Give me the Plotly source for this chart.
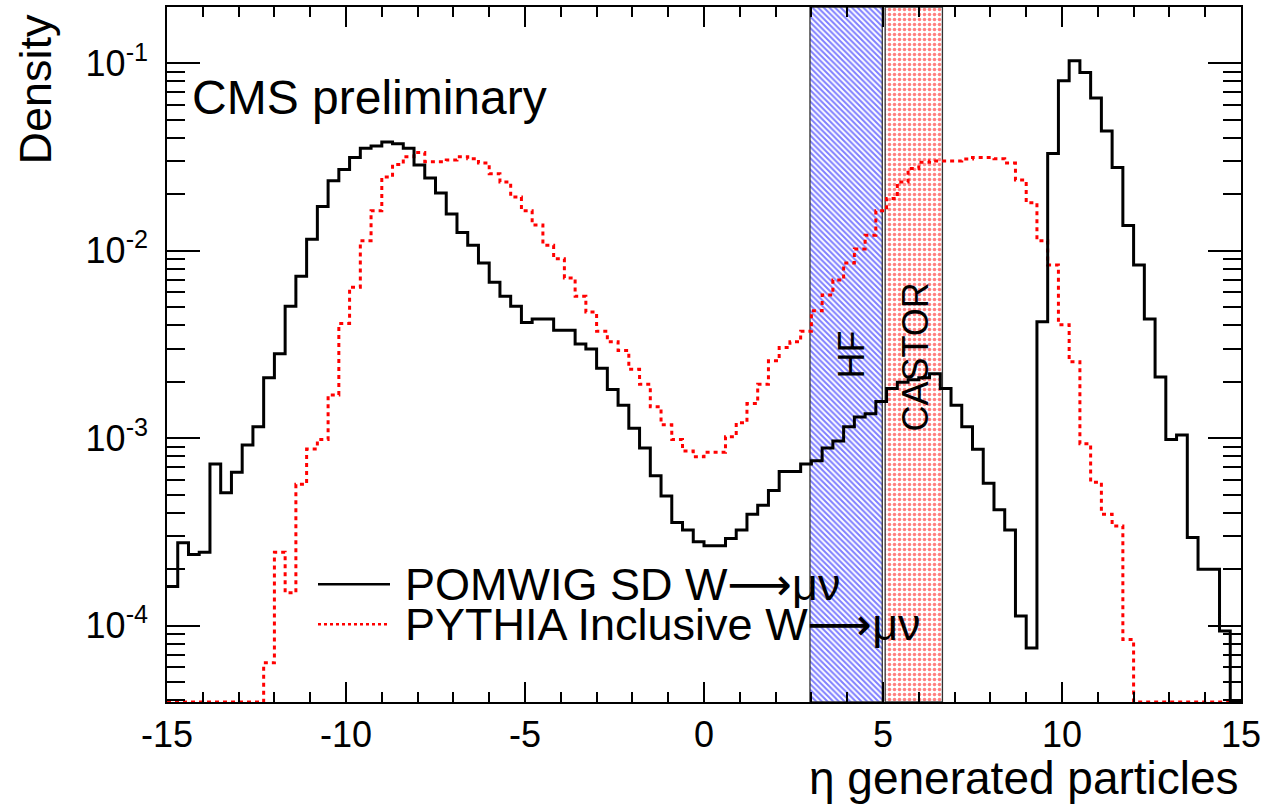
import numpy as np
import plotly.graph_objects as go

# ---------------- data ----------------
ETA_MIN, ETA_MAX, N_BINS = -15.0, 15.0, 100

POMWIG = [1.62e-4, 2.77e-4, 2.40e-4, 2.47e-4, 7.28e-4, 5.13e-4, 6.59e-4, 9.20e-4, 1.15e-3, 2.10e-3,
          2.82e-3, 5.05e-3, 7.31e-3, 1.15e-2, 1.72e-2, 2.36e-2, 2.71e-2, 3.14e-2, 3.52e-2, 3.61e-2,
          3.80e-2, 3.71e-2, 3.52e-2, 2.86e-2, 2.44e-2, 2.03e-2, 1.57e-2, 1.25e-2, 1.07e-2, 8.59e-3,
          6.79e-3, 5.71e-3, 5.05e-3, 4.14e-3, 4.32e-3, 4.32e-3, 3.77e-3, 3.77e-3, 3.18e-3, 2.99e-3,
          2.36e-3, 1.82e-3, 1.50e-3, 1.13e-3, 8.87e-4, 6.31e-4, 4.92e-4, 3.56e-4, 3.24e-4, 2.81e-4,
          2.67e-4, 2.67e-4, 2.92e-4, 3.24e-4, 3.94e-4, 4.39e-4, 5.26e-4, 6.65e-4, 6.65e-4, 7.28e-4,
          7.59e-4, 8.87e-4, 9.68e-4, 1.15e-3, 1.30e-3, 1.35e-3, 1.57e-3, 1.84e-3, 1.99e-3, 2.05e-3,
          2.10e-3, 2.21e-3, 1.84e-3, 1.50e-3, 1.15e-3, 8.73e-4, 5.75e-4, 4.16e-4, 3.24e-4, 1.13e-4,
          7.62e-5, 4.18e-3, 3.30e-2, 8.04e-2, 1.03e-1, 8.91e-2, 6.52e-2, 4.34e-2, 2.78e-2, 1.36e-2,
          8.38e-3, 4.32e-3, 2.12e-3, 9.84e-4, 1.04e-3, 2.96e-4, 2.00e-4, 2.00e-4, 9.40e-5, 0.0]

PYTHIA = [0.0, 0.0, 0.0, 0.0, 0.0, 0.0, 0.0, 0.0, 0.0, 6.35e-5,
          2.47e-4, 1.50e-4, 5.69e-4, 8.77e-4, 9.84e-4, 1.70e-3, 4.09e-3, 6.38e-3, 1.13e-2, 1.63e-2,
          2.47e-2, 2.88e-2, 3.17e-2, 3.34e-2, 2.98e-2, 2.98e-2, 3.04e-2, 3.17e-2, 3.09e-2, 2.93e-2,
          2.57e-2, 2.32e-2, 1.93e-2, 1.63e-2, 1.37e-2, 1.07e-2, 9.06e-3, 7.16e-3, 5.71e-3, 4.71e-3,
          3.72e-3, 3.27e-3, 2.94e-3, 2.33e-3, 1.94e-3, 1.47e-3, 1.18e-3, 9.84e-4, 8.55e-4, 7.98e-4,
          8.41e-4, 8.41e-4, 1.02e-3, 1.21e-3, 1.53e-3, 1.94e-3, 2.59e-3, 3.05e-3, 3.27e-3, 3.72e-3,
          4.79e-3, 5.81e-3, 6.98e-3, 8.59e-3, 1.02e-2, 1.21e-2, 1.63e-2, 1.90e-2, 2.32e-2, 2.74e-2,
          2.96e-2, 3.01e-2, 3.01e-2, 3.01e-2, 3.08e-2, 3.14e-2, 3.14e-2, 3.09e-2, 2.93e-2, 2.38e-2,
          1.80e-2, 1.13e-2, 8.38e-3, 4.03e-3, 2.56e-3, 9.35e-4, 5.83e-4, 3.94e-4, 3.41e-4, 8.45e-5,
          0.0, 0.0, 0.0, 0.0, 0.0, 0.0, 0.0, 0.0, 0.0, 0.0]

X_TICKS = [-15, -10, -5, 0, 5, 10, 15]
X_TICK_LABELS = ["-15", "-10", "-5", "0", "5", "10", "15"]
Y_TICKS = [1e-4, 1e-3, 1e-2, 1e-1]
Y_TICK_LABELS = ["10<sup>-4</sup>", "10<sup>-3</sup>", "10<sup>-2</sup>", "10<sup>-1</sup>"]
Y_RANGE_LOG = [-4.406, -0.701]

HF_BAND = (2.96, 4.98)
CASTOR_BAND = (5.06, 6.66)

ARROW = "<span style='font-family:DejaVu Sans'>\u27f6</span>"
SERIES_NAMES = ["POMWIG SD W" + ARROW + "\u03bc\u03bd", "PYTHIA Inclusive W" + ARROW + "\u03bc\u03bd"]

# ---------------- figure ----------------
FONT = "Liberation Sans, Arial, Helvetica, sans-serif"
W, H = 1266, 805
L, R, T, B = 167, 25, 5, 103
PW, PH = W - L - R, H - T - B

edges = np.linspace(ETA_MIN, ETA_MAX, N_BINS + 1)
y_floor = 10 ** Y_RANGE_LOG[0]
y_top = 10 ** Y_RANGE_LOG[1]


def step_xy(vals):
    y = [v if v > 0 else y_floor for v in vals]
    return list(edges), y + [y[-1]]


def px_x(p):
    return (p - L) / PW


def px_y(p):
    return (H - B - p) / PH


fig = go.Figure()

# detector bands
for (x0, x1), shape, col, size, sol in [(HF_BAND, "\\", "#0000ff", 4, 0.5), (CASTOR_BAND, ".", "#ff0000", 5, 0.4)]:
    fig.add_trace(go.Scatter(
        x=[x0, x1, x1, x0, x0], y=[y_floor, y_floor, y_top, y_top, y_floor],
        mode="lines", fill="toself", fillcolor="rgba(0,0,0,0)",
        fillpattern=dict(shape=shape, fgcolor=col, bgcolor="rgba(255,255,255,0)", size=size, solidity=sol),
        line=dict(color="#333333", width=1.3), hoverinfo="skip", showlegend=False))

xs, ys = step_xy(PYTHIA)
fig.add_trace(go.Scatter(x=xs, y=ys, mode="lines", line=dict(shape="hv", color="#ff0000", width=3, dash="4px,4px"),
                         name="PYTHIA", showlegend=False))
xs, ys = step_xy(POMWIG)
fig.add_trace(go.Scatter(x=xs, y=ys, mode="lines", line=dict(shape="hv", color="#000000", width=3),
                         name="POMWIG", showlegend=False))

minor_y = [k * 10.0 ** e for e in range(-5, 0) for k in range(2, 10)]

fig.update_layout(
    width=W, height=H, margin=dict(l=L, r=R, t=T, b=B),
    paper_bgcolor="white", plot_bgcolor="white",
    font=dict(family=FONT, color="black", size=36),
    xaxis=dict(range=[ETA_MIN, ETA_MAX], tickmode="array", tickvals=X_TICKS, ticktext=X_TICK_LABELS,
               ticks="inside", ticklen=20, tickwidth=1.5, tickcolor="black",
               minor=dict(tickmode="array", tickvals=list(range(-14, 15)), ticks="inside", ticklen=10,
                          tickwidth=1.5, tickcolor="black"),
               showline=True, linecolor="black", linewidth=1.5, mirror="ticks",
               showgrid=False, zeroline=False, tickfont=dict(size=36, family=FONT), ticklabelstandoff=0),
    yaxis=dict(type="log", range=Y_RANGE_LOG, tickmode="array", tickvals=Y_TICKS, ticktext=Y_TICK_LABELS,
               ticks="inside", ticklen=33, tickwidth=1.5, tickcolor="black",
               minor=dict(tickmode="array", tickvals=minor_y, ticks="inside", ticklen=18,
                          tickwidth=1.5, tickcolor="black"),
               showline=True, linecolor="black", linewidth=1.5, mirror="ticks",
               showgrid=False, zeroline=False, tickfont=dict(size=36, family=FONT), ticklabelstandoff=10),
)

ann = []
# axis titles
ann.append(dict(text="\u03b7 generated particles", xref="paper", yref="paper", x=1.0, y=px_y(778),
                xanchor="right", yanchor="middle", showarrow=False, font=dict(size=46, family=FONT)))
ann.append(dict(text="Density", xref="paper", yref="paper", x=px_x(35), y=px_y(10), textangle=-90,
                xanchor="center", yanchor="top", showarrow=False, font=dict(size=45, family=FONT)))
# CMS label
ann.append(dict(text="CMS preliminary", xref="paper", yref="paper", x=px_x(190), y=px_y(96),
                xanchor="left", yanchor="middle", showarrow=False, font=dict(size=48, family=FONT)))
# band labels
ann.append(dict(text="HF", xref="x", yref="paper", x=sum(HF_BAND) / 2 + 0.15, y=px_y(354), textangle=-90,
                xanchor="center", yanchor="middle", showarrow=False, font=dict(size=36, family=FONT)))
ann.append(dict(text="CASTOR", xref="x", yref="paper", x=sum(CASTOR_BAND) / 2 + 0.05, y=px_y(356), textangle=-90,
                xanchor="center", yanchor="middle", showarrow=False, font=dict(size=36, family=FONT)))
# legend
shapes = []
for i, (name, col, dash, wid) in enumerate([(SERIES_NAMES[0], "black", "solid", 2.5),
                                            (SERIES_NAMES[1], "#ff0000", "3px,3px", 2.5)]):
    yy = px_y(584 + 40 * i)
    shapes.append(dict(type="line", xref="paper", yref="paper", x0=px_x(318), x1=px_x(390), y0=yy, y1=yy,
                       line=dict(color=col, width=wid, dash=dash)))
    ann.append(dict(text=name, xref="paper", yref="paper", x=px_x(403), y=yy,
                    xanchor="left", yanchor="middle", showarrow=False, font=dict(size=45, family=FONT)))

fig.update_layout(annotations=ann, shapes=shapes)
fig.write_html("out.html")
